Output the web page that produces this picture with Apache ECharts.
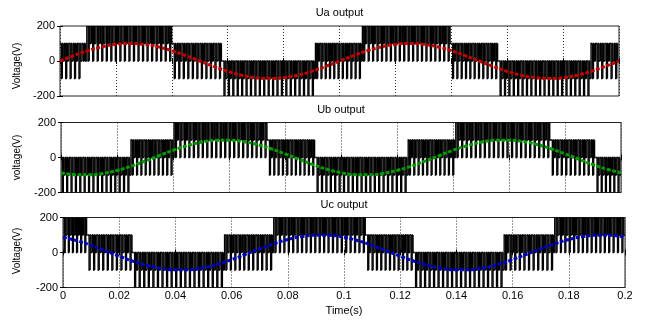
<!DOCTYPE html>
<html><head><meta charset="utf-8">
<script src="https://cdn.jsdelivr.net/npm/echarts@6/dist/echarts.min.js"></script>
<style>html,body{margin:0;padding:0;background:#fff}#c{width:648px;height:321px}</style>
</head><body><div id="c"></div>
<script>
// ---- data ----
const timeTicks = [0,0.02,0.04,0.06,0.08,0.1,0.12,0.14,0.16,0.18,0.2];
const voltTicks = [-200,0,200];
const titles = ['Ua output','Ub output','Uc output'];
const yNames = ['Voltage(V)','voltage(V)','Voltage(V)'];
const xName = 'Time(s)';

// fundamental (filtered) waveforms, sampled every 5 ms
const fundTime = [0,0.005,0.01,0.015,0.02,0.025,0.03,0.035,0.04,0.045,0.05,0.055,0.06,0.065,0.07,0.075,0.08,0.085,0.09,0.095,0.1,0.105,0.11,0.115,0.12,0.125,0.13,0.135,0.14,0.145,0.15,0.155,0.16,0.165,0.17,0.175,0.18,0.185,0.19,0.195,0.2];
const uaFund = [0,31,59,81,95,100,95,81,59,31,0,-31,-59,-81,-95,-100,-95,-81,-59,-31,0,31,59,81,95,100,95,81,59,31,0,-31,-59,-81,-95,-100,-95,-81,-59,-31,0];
const ubFund = [-87,-98,-99,-91,-74,-50,-21,10,41,67,87,98,99,91,74,50,21,-10,-41,-67,-87,-98,-99,-91,-74,-50,-21,10,41,67,87,98,99,91,74,50,21,-10,-41,-67,-87];
const ucFund = [87,67,41,10,-21,-50,-74,-91,-99,-98,-87,-67,-41,-10,21,50,74,91,99,98,87,67,41,10,-21,-50,-74,-91,-99,-98,-87,-67,-41,-10,21,50,74,91,99,98,87];

// PWM switching bands: time span and the [high, low, middle] levels visited in each switching period
const switchPeriod = 0.0016;
const pulseShape = [0, 0.3, 0.52, 0.72];    // fraction of a switching period where each state begins
const pulseLevelIndex = [0, 1, 0, 2];       // which band level each state uses
const uaBandStart = [0,0.0079,0.0096,0.0404,0.0582,0.0914,0.1082,0.14,0.157,0.19];
const uaBandEnd   = [0.0079,0.0096,0.0404,0.0582,0.0914,0.1082,0.14,0.157,0.19,0.2];
const uaBandLevels = [[100,-100,0],[100,0,0],[200,0,100],[100,-100,0],[0,-200,-100],[100,-100,0],[200,0,100],[100,-100,0],[0,-200,-100],[100,-100,0]];
const ubBandStart = [0,0.025,0.0404,0.074,0.091,0.124,0.141,0.175,0.191];
const ubBandEnd   = [0.025,0.0404,0.074,0.091,0.124,0.141,0.175,0.191,0.2];
const ubBandLevels = [[0,-200,-100],[100,-100,0],[200,0,100],[100,-100,0],[0,-200,-100],[100,-100,0],[200,0,100],[100,-100,0],[0,-200,-100]];
const ucBandStart = [0,0.0088,0.025,0.0575,0.075,0.108,0.125,0.157,0.175];
const ucBandEnd   = [0.0088,0.025,0.0575,0.075,0.108,0.125,0.157,0.175,0.2];
const ucBandLevels = [[200,0,100],[100,-100,0],[0,-200,-100],[100,-100,0],[200,0,100],[100,-100,0],[0,-200,-100],[100,-100,0],[200,0,100]];

const fundColors = ['#c00000','#009a00','#0000c0'];

// ---- build: one item per switching state [tStart, tEnd, previousLevel, level] ----
function buildPwm(starts, ends, levels){
  const segs = [];
  let prev = null;
  for (let i = 0; i < starts.length; i++){
    const n = Math.max(1, Math.round((ends[i]-starts[i])/switchPeriod));
    const p = (ends[i]-starts[i])/n;
    for (let k = 0; k < n; k++){
      const t0 = starts[i] + k*p;
      for (let j = 0; j < pulseShape.length; j++){
        const a = t0 + pulseShape[j]*p;
        const b = t0 + (j+1 < pulseShape.length ? pulseShape[j+1] : 1)*p;
        const v = levels[i][pulseLevelIndex[j]];
        segs.push([a, b, prev === null ? v : prev, v]);
        prev = v;
      }
    }
  }
  return segs;
}
const pwm = [
  buildPwm(uaBandStart, uaBandEnd, uaBandLevels),
  buildPwm(ubBandStart, ubBandEnd, ubBandLevels),
  buildPwm(ucBandStart, ucBandEnd, ucBandLevels)
];
const fund = [uaFund, ubFund, ucFund].map(a => a.map((v,i) => [fundTime[i], v]));

const grids = [
  {left: 60, width: 559, top: 26, height: 70},
  {left: 61, width: 560, top: 122.5, height: 70},
  {left: 63, width: 562, top: 217.5, height: 70}
];
const FONT = 'Liberation Sans, Arial, Helvetica, sans-serif';

const xAxis = [], yAxis = [], series = [], graphic = [];
grids.forEach((g, i) => {
  xAxis.push({
    type:'value', gridIndex:i, min:0, max:0.2, interval:0.02, position:'bottom',
    axisLine:{show:false},
    axisTick:{show:true, inside:true, length:3, lineStyle:{color:'#000'}},
    axisLabel:{show: i===2, margin:3, color:'#000', fontSize:11, fontFamily:FONT,
      formatter: v => String(+v.toFixed(2))},
    splitLine:{show:true, lineStyle:{color:'#333', type:[1,2], width:1}}
  });
  yAxis.push({
    type:'value', gridIndex:i, min:-200, max:200, interval:200,
    axisLine:{show:false},
    axisTick:{show:true, inside:true, length:3, lineStyle:{color:'#000'}},
    axisLabel:{margin:5, color:'#000', fontSize:11, fontFamily:FONT},
    splitLine:{show:false}
  });
});
grids.forEach((g, i) => {
  xAxis.push({type:'value', gridIndex:i, min:0, max:0.2, interval:0.02, position:'top',
    axisLine:{show:false}, axisTick:{show:true, inside:true, length:3, lineStyle:{color:'#000'}},
    axisLabel:{show:false}, splitLine:{show:false}});
  yAxis.push({type:'value', gridIndex:i, min:-200, max:200, interval:200, position:'right',
    axisLine:{show:false}, axisTick:{show:true, inside:true, length:3, lineStyle:{color:'#000'}},
    axisLabel:{show:false}, splitLine:{show:false}});
});
function pwmRender(params, api){
  const p0 = api.coord([api.value(0), api.value(2)]);
  const p1 = api.coord([api.value(0), api.value(3)]);
  const p2 = api.coord([api.value(1), api.value(3)]);
  return {type:'polyline', shape:{points:[p0, p1, p2]},
    style:{stroke:'#000', lineWidth:1.4, fill:null}};
}
grids.forEach((g, i) => {
  series.push({type:'custom', xAxisIndex:i, yAxisIndex:i, data:pwm[i], renderItem:pwmRender,
    encode:{x:[0,1], y:[2,3]}, z:2, silent:true, clip:true});
  series.push({type:'line', xAxisIndex:i, yAxisIndex:i, data:fund[i], smooth:true,
    showSymbol:false, symbol:'none', lineStyle:{color:fundColors[i], width:3, type:[4,1.5]}, z:3, silent:true});
});
const titleY = [13, 109.5, 205];
const nameY = [66, 157.5, 251];
grids.forEach((g, i) => {
  graphic.push({type:'text', x: g.left + g.width/2, y: titleY[i],
    style:{text:titles[i], fill:'#000', font:'11px '+FONT, textAlign:'center', textVerticalAlign:'middle'}});
  graphic.push({type:'text', x: 17, y: nameY[i], rotation: Math.PI/2,
    style:{text:yNames[i], fill:'#000', font:'10px '+FONT, textAlign:'center', textVerticalAlign:'middle'}});
});
graphic.push({type:'text', x: 344, y: 311,
  style:{text:xName, fill:'#000', font:'11px '+FONT, textAlign:'center', textVerticalAlign:'middle'}});

const chart = echarts.init(document.getElementById('c'), null, {renderer:'canvas'});
chart.setOption({
  animation:false,
  backgroundColor:'#fff',
  grid: grids.map(g => Object.assign({show:true, borderColor:'#222', borderWidth:1, backgroundColor:'transparent'}, g)),
  xAxis, yAxis, series, graphic
});
</script></body></html>
